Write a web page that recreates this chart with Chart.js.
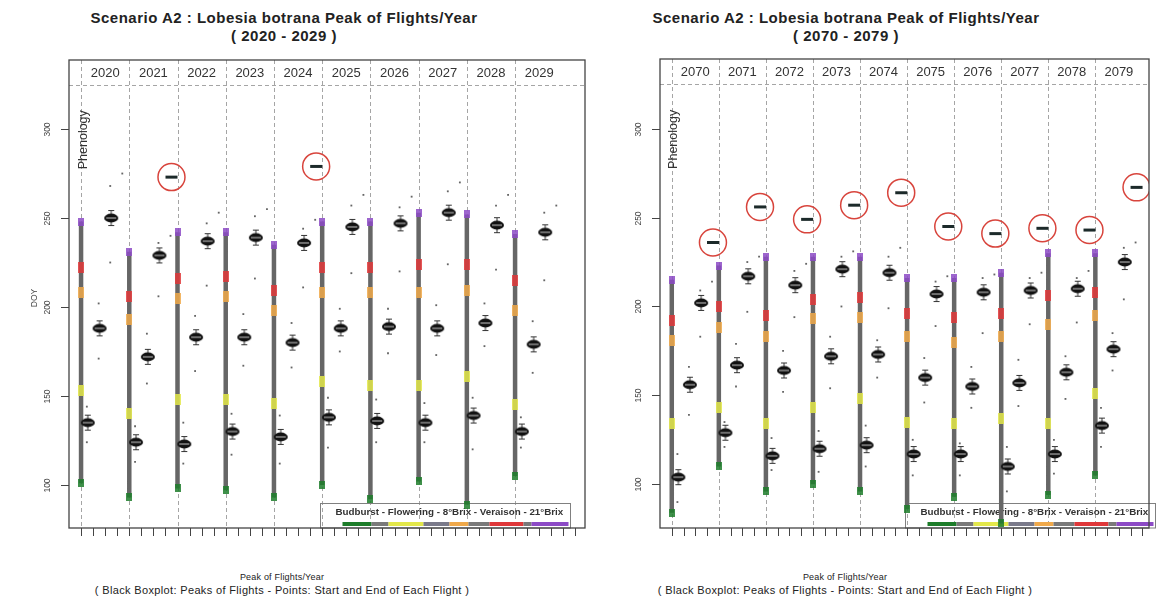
<!DOCTYPE html>
<html>
<head>
<meta charset="utf-8">
<script src="https://cdn.jsdelivr.net/npm/chart.js@4.4.1/dist/chart.umd.min.js"></script>
<style>
  body { margin: 0; background: #fff; width: 1164px; height: 609px; position: relative; overflow: hidden;
         font-family: "Liberation Sans", Arial, sans-serif; color: #222; }
  .title { position: absolute; width: 520px; text-align: center; font-weight: bold; font-size: 15px;
           letter-spacing: 0.5px; line-height: 18px; }
  .xcap  { position: absolute; width: 520px; text-align: center; line-height: 12px; }
  .xcap .l1 { font-size: 9px; letter-spacing: 0.2px; }
  .xcap .l2 { font-size: 11px; letter-spacing: 0.35px; }
  canvas { position: absolute; top: 0; }
</style>
</head>
<body>

<div class="title" style="left:24px;top:9px">Scenario A2 : Lobesia botrana Peak of Flights/Year<br>( 2020 - 2029 )</div>
<div class="title" style="left:586px;top:9px">Scenario A2 : Lobesia botrana Peak of Flights/Year<br>( 2070 - 2079 )</div>
<div class="xcap" style="left:22px;top:569px"><span class="l1">Peak of Flights/Year</span><br><span class="l2">( Black Boxplot: Peaks of Flights - Points: Start and End of Each Flight )</span></div>
<div class="xcap" style="left:585px;top:569px"><span class="l1">Peak of Flights/Year</span><br><span class="l2">( Black Boxplot: Peaks of Flights - Points: Start and End of Each Flight )</span></div>

<canvas id="chartA" width="600" height="609" style="left:0"></canvas>
<canvas id="chartB" width="564" height="609" style="left:600px"></canvas>

<script>
// =========================
// DATA  (day of year)
// =========================
const yearsA = ['2020', '2021', '2022', '2023', '2024', '2025', '2026', '2027', '2028', '2029'];
const budburstA  = [101, 93, 98, 97, 93, 100, 92, 102, 89, 105];
const floweringA = [153, 140, 148, 148, 146, 158, 156, 156, 161, 145];
const brix8A     = [208, 193, 205, 206, 198, 208, 208, 208, 209, 198];
const veraisonA  = [222, 206, 216, 217, 209, 222, 222, 224, 224, 215];
const brix21A    = [248, 231, 242, 242, 235, 248, 248, 253, 252, 241];
const peak1A = [135, 124, 123, 130, 127, 138, 136, 135, 139, 130];
const peak2A = [188, 172, 183, 183, 180, 188, 189, 188, 191, 179];
const peak3A = [250, 229, 237, 239, 236, 245, 247, 253, 246, 242];
const peak4A = [null, 273, null, null, 279, null, null, null, null, null];
const start1A = [124, 113, 112, 117, 112, 121, 124, 124, 120, 121];
const end1A   = [144, 133, 135, 140, 139, 149, 148, 146, 149, 138];
const start2A = [171, 157, 164, 167, 166, 175, 174, 173, 178, 163];
const end2A   = [202, 185, 195, 196, 191, 199, 199, 201, 202, 192];
const start3A = [225, 206, 212, 216, 211, 219, 220, 224, 221, 215];
const end3A   = [268, 236, 247, 251, 244, 257, 256, 265, 257, 253];
const late4A  = [275, 240, 253, 255, 249, 263, 262, 270, 263, 257];

const yearsB = ['2070', '2071', '2072', '2073', '2074', '2075', '2076', '2077', '2078', '2079'];
const budburstB  = [84, 110, 96, 100, 96, 86, 93, 78, 94, 105];
const floweringB = [134, 143, 134, 143, 148, 135, 134, 137, 134, 151];
const brix8B     = [181, 188, 183, 193, 194, 183, 180, 183, 190, 195];
const veraisonB  = [192, 200, 195, 204, 205, 196, 194, 196, 206, 208];
const brix21B    = [215, 223, 228, 228, 228, 216, 216, 219, 230, 230];
const peak1B = [104, 129, 116, 120, 122, 117, 117, 110, 117, 133];
const peak2B = [156, 167, 164, 172, 173, 160, 155, 157, 163, 176];
const peak3B = [202, 217, 212, 221, 219, 207, 208, 209, 210, 225];
const peak4B = [236, 256, 249, 257, 264, 245, 241, 244, 243, 267];
const start1B = [90, 121, 108, 107, 110, 105, 105, 96, 106, 121];
const end1B   = [117, 135, 126, 130, 133, 125, 123, 121, 125, 143];
const start2B = [139, 155, 152, 154, 160, 146, 143, 144, 148, 164];
const end2B   = [166, 179, 175, 183, 181, 171, 166, 170, 172, 185];
const start3B = [183, 197, 194, 200, 199, 189, 185, 190, 191, 204];
const end3B   = [209, 225, 220, 228, 228, 214, 216, 216, 216, 233];
const late4B  = [214, 228, 224, 231, 233, 217, 218, 219, 220, 236];

const yTicks = [100, 150, 200, 250, 300];
const headerLine = 325;

// =========================
// STYLE CONSTANTS
// =========================
const FONT = '"Liberation Sans", Arial, sans-serif';
const FLIGHT_OFFSETS = [0.14, 0.385, 0.625, 0.875];   // position of each flight inside a year slot
const STAGE_COLORS = ['#1d7d2a', '#e3e84a', '#f0a94a', '#e0383a', '#8c4ac6'];
const LEGEND_TEXT = 'Budburst - Flowering - 8°Brix - Veraison - 21°Brix';
const LEGEND_BAND = [
  [22, 51, STAGE_COLORS[0]], [51, 68, '#7a7a7a'], [68, 103, STAGE_COLORS[1]], [103, 129, '#7a7a8a'],
  [129, 148, STAGE_COLORS[2]], [148, 169, '#7a7a7a'], [169, 203, STAGE_COLORS[3]], [203, 211, '#7a7a7a'],
  [211, 248, STAGE_COLORS[4]]
];

// little glyphs used as point styles
function boxGlyph() {
  const c = document.createElement('canvas');
  c.width = 16; c.height = 18;
  const g = c.getContext('2d');
  g.strokeStyle = '#333'; g.lineWidth = 1;
  g.beginPath();
  g.moveTo(8, 1); g.lineTo(8, 17);
  g.moveTo(5, 1.5); g.lineTo(11, 1.5);
  g.moveTo(5, 16.5); g.lineTo(11, 16.5);
  g.stroke();
  g.fillStyle = '#111';
  g.beginPath(); g.ellipse(8, 9, 7, 4.4, 0, 0, Math.PI * 2); g.fill();
  g.strokeStyle = '#ccc';
  g.beginPath(); g.moveTo(3, 9); g.lineTo(13, 9); g.stroke();
  return c;
}
function dashGlyph() {
  const c = document.createElement('canvas');
  c.width = 14; c.height = 5;
  const g = c.getContext('2d');
  g.fillStyle = '#1c2a2a';
  g.fillRect(1, 1, 12, 3);
  return c;
}
function stageGlyph(color, w, h) {
  const c = document.createElement('canvas');
  c.width = w; c.height = h;
  const g = c.getContext('2d');
  g.fillStyle = color;
  g.globalAlpha = 0.85;
  g.fillRect(0, 0, w, h);
  return c;
}
const BOX = boxGlyph();
const DASH = dashGlyph();

// =========================
// DECORATION PLUGIN (grid, frame, ticks, labels, legend)
// =========================
const decor = {
  id: 'decor',
  beforeDatasetsDraw(chart, args, opts) {
    const { ctx, chartArea: a, scales: { x, y } } = chart;
    ctx.save();
    ctx.strokeStyle = '#a5a5a5';
    ctx.lineWidth = 1;
    ctx.setLineDash([4, 3]);
    opts.years.forEach((yr, i) => {
      const px = Math.round(x.getPixelForValue(i)) + 0.5;
      ctx.beginPath(); ctx.moveTo(px, a.top); ctx.lineTo(px, a.bottom); ctx.stroke();
    });
    const hy = Math.round(y.getPixelForValue(headerLine)) + 0.5;
    ctx.beginPath(); ctx.moveTo(a.left, hy); ctx.lineTo(a.right, hy); ctx.stroke();
    ctx.setLineDash([]);

    // year labels
    ctx.fillStyle = '#333';
    ctx.font = '13px ' + FONT;
    ctx.textAlign = 'center';
    ctx.textBaseline = 'middle';
    const ly = (a.top + hy) / 2 + 1;
    opts.years.forEach((yr, i) => ctx.fillText(yr, x.getPixelForValue(i + 0.5), ly));

    // Phenology
    ctx.save();
    ctx.translate(x.getPixelForValue(0) + 2, y.getPixelForValue(294));
    ctx.rotate(-Math.PI / 2);
    ctx.font = '12.5px ' + FONT;
    ctx.fillText('Phenology', 0, 0);
    ctx.restore();

    // legend box
    const L = Math.round(x.getPixelForValue(opts.legendAt)) + 0.5;
    const T = a.bottom - 24.5;
    ctx.strokeStyle = '#808080';
    ctx.strokeRect(L, T, 250, a.bottom - T);
    ctx.fillStyle = '#333';
    ctx.font = 'bold 9.8px ' + FONT;
    ctx.textAlign = 'left';
    ctx.fillText(LEGEND_TEXT, L + 15, T + 8.5);
    LEGEND_BAND.forEach(([s, e, c]) => {
      ctx.fillStyle = c;
      ctx.fillRect(L + s, a.bottom - 6, e - s, 4);
    });
    ctx.restore();
  },
  afterDatasetsDraw(chart, args, opts) {
    const { ctx, chartArea: a, scales: { x, y } } = chart;
    ctx.save();
    ctx.strokeStyle = '#444';
    ctx.lineWidth = 1.3;
    ctx.strokeRect(a.left, a.top, a.right - a.left, a.bottom - a.top);

    // y ticks and rotated labels
    ctx.lineWidth = 1;
    ctx.fillStyle = '#444';
    ctx.font = '8.5px ' + FONT;
    ctx.textAlign = 'center';
    ctx.textBaseline = 'middle';
    yTicks.forEach(v => {
      const py = Math.round(y.getPixelForValue(v)) + 0.5;
      ctx.beginPath(); ctx.moveTo(a.left - 8, py); ctx.lineTo(a.left, py); ctx.stroke();
      ctx.save();
      ctx.translate(a.left - 21, py);
      ctx.rotate(-Math.PI / 2);
      ctx.fillText(String(v), 0, 0);
      ctx.restore();
    });
    if (opts.yTitle) {
      ctx.save();
      ctx.translate(a.left - 34, (a.top + a.bottom) / 2 + 4);
      ctx.rotate(-Math.PI / 2);
      ctx.fillText(opts.yTitle, 0, 0);
      ctx.restore();
    }

    // x ticks (four per year)
    for (let t = 0; t <= x.max; t += 0.25) {
      const px = Math.round(x.getPixelForValue(t)) + 0.5;
      ctx.beginPath(); ctx.moveTo(px, a.bottom); ctx.lineTo(px, a.bottom + 8); ctx.stroke();
    }
    ctx.restore();
  }
};

// =========================
// BUILD ONE PANEL
// =========================
function at(values, offset) {
  return values
    .map((v, i) => (v == null ? null : { x: i + offset, y: v }))
    .filter(Boolean);
}

function buildPanel(id, p) {
  const phenLine = [];
  p.budburst.forEach((b, i) => {
    phenLine.push({ x: i, y: b }, { x: i, y: p.brix21[i] }, { x: i, y: null });
  });
  const stages = [p.budburst, p.flowering, p.brix8, p.veraison, p.brix21];
  const stageSets = stages.map((vals, k) => ({
    data: at(vals, 0),
    pointStyle: k === 0 || k === 4 ? stageGlyph(STAGE_COLORS[k], 6, 8) : stageGlyph(STAGE_COLORS[k], 6, 11),
    pointRadius: 4
  }));
  const dots = [
    ...at(p.start1, FLIGHT_OFFSETS[0] - 0.02), ...at(p.end1, FLIGHT_OFFSETS[0] - 0.02),
    ...at(p.start2, FLIGHT_OFFSETS[1] - 0.02), ...at(p.end2, FLIGHT_OFFSETS[1] - 0.02),
    ...at(p.start3, FLIGHT_OFFSETS[2] - 0.02), ...at(p.end3, FLIGHT_OFFSETS[2] - 0.02),
    ...at(p.late4, FLIGHT_OFFSETS[3] - 0.02)
  ];

  new Chart(document.getElementById(id), {
    type: 'scatter',
    data: {
      datasets: [
        { data: at(p.peak4, FLIGHT_OFFSETS[3]), pointStyle: 'circle', pointRadius: 13.5,
          borderColor: '#d8443c', borderWidth: 1.5, backgroundColor: 'rgba(0,0,0,0)' },
        { data: at(p.peak4, FLIGHT_OFFSETS[3]), pointStyle: DASH, pointRadius: 6 },
        { data: [...at(p.peak1, FLIGHT_OFFSETS[0]), ...at(p.peak2, FLIGHT_OFFSETS[1]), ...at(p.peak3, FLIGHT_OFFSETS[2])],
          pointStyle: BOX, pointRadius: 8 },
        ...stageSets,
        { data: dots, pointStyle: 'rect', pointRadius: 1.3, backgroundColor: '#666', borderWidth: 0 },
        { data: phenLine, showLine: true, spanGaps: false, pointRadius: 0,
          borderColor: '#666', borderWidth: 4.5, borderCapStyle: 'butt' }
      ]
    },
    options: {
      responsive: false,
      animation: false,
      events: [],
      layout: { padding: p.padding },
      scales: {
        x: { type: 'linear', display: false, min: -0.25, max: p.xMax },
        y: { type: 'linear', display: false, min: p.yMin, max: p.yMax }
      },
      plugins: {
        legend: { display: false },
        tooltip: { enabled: false },
        decor: { years: p.years, legendAt: 4.95, yTitle: p.yTitle }
      }
    },
    plugins: [decor]
  });
}

buildPanel('chartA', {
  years: yearsA, budburst: budburstA, flowering: floweringA, brix8: brix8A, veraison: veraisonA, brix21: brix21A,
  peak1: peak1A, peak2: peak2A, peak3: peak3A, peak4: peak4A,
  start1: start1A, end1: end1A, start2: start2A, end2: end2A, start3: start3A, end3: end3A, late4: late4A,
  padding: { left: 69, right: 14, top: 60, bottom: 81 },
  xMax: 10.45, yMin: 75.8, yMax: 338.8, yTitle: 'DOY'
});

buildPanel('chartB', {
  years: yearsB, budburst: budburstB, flowering: floweringB, brix8: brix8B, veraison: veraisonB, brix21: brix21B,
  peak1: peak1B, peak2: peak2B, peak3: peak3B, peak4: peak4B,
  start1: start1B, end1: end1B, start2: start2B, end2: end2B, start3: start3B, end3: end3B, late4: late4B,
  padding: { left: 60, right: 1, top: 59, bottom: 81 },
  xMax: 10.14, yMin: 75.4, yMax: 339.2, yTitle: ''
});
</script>
</body>
</html>
